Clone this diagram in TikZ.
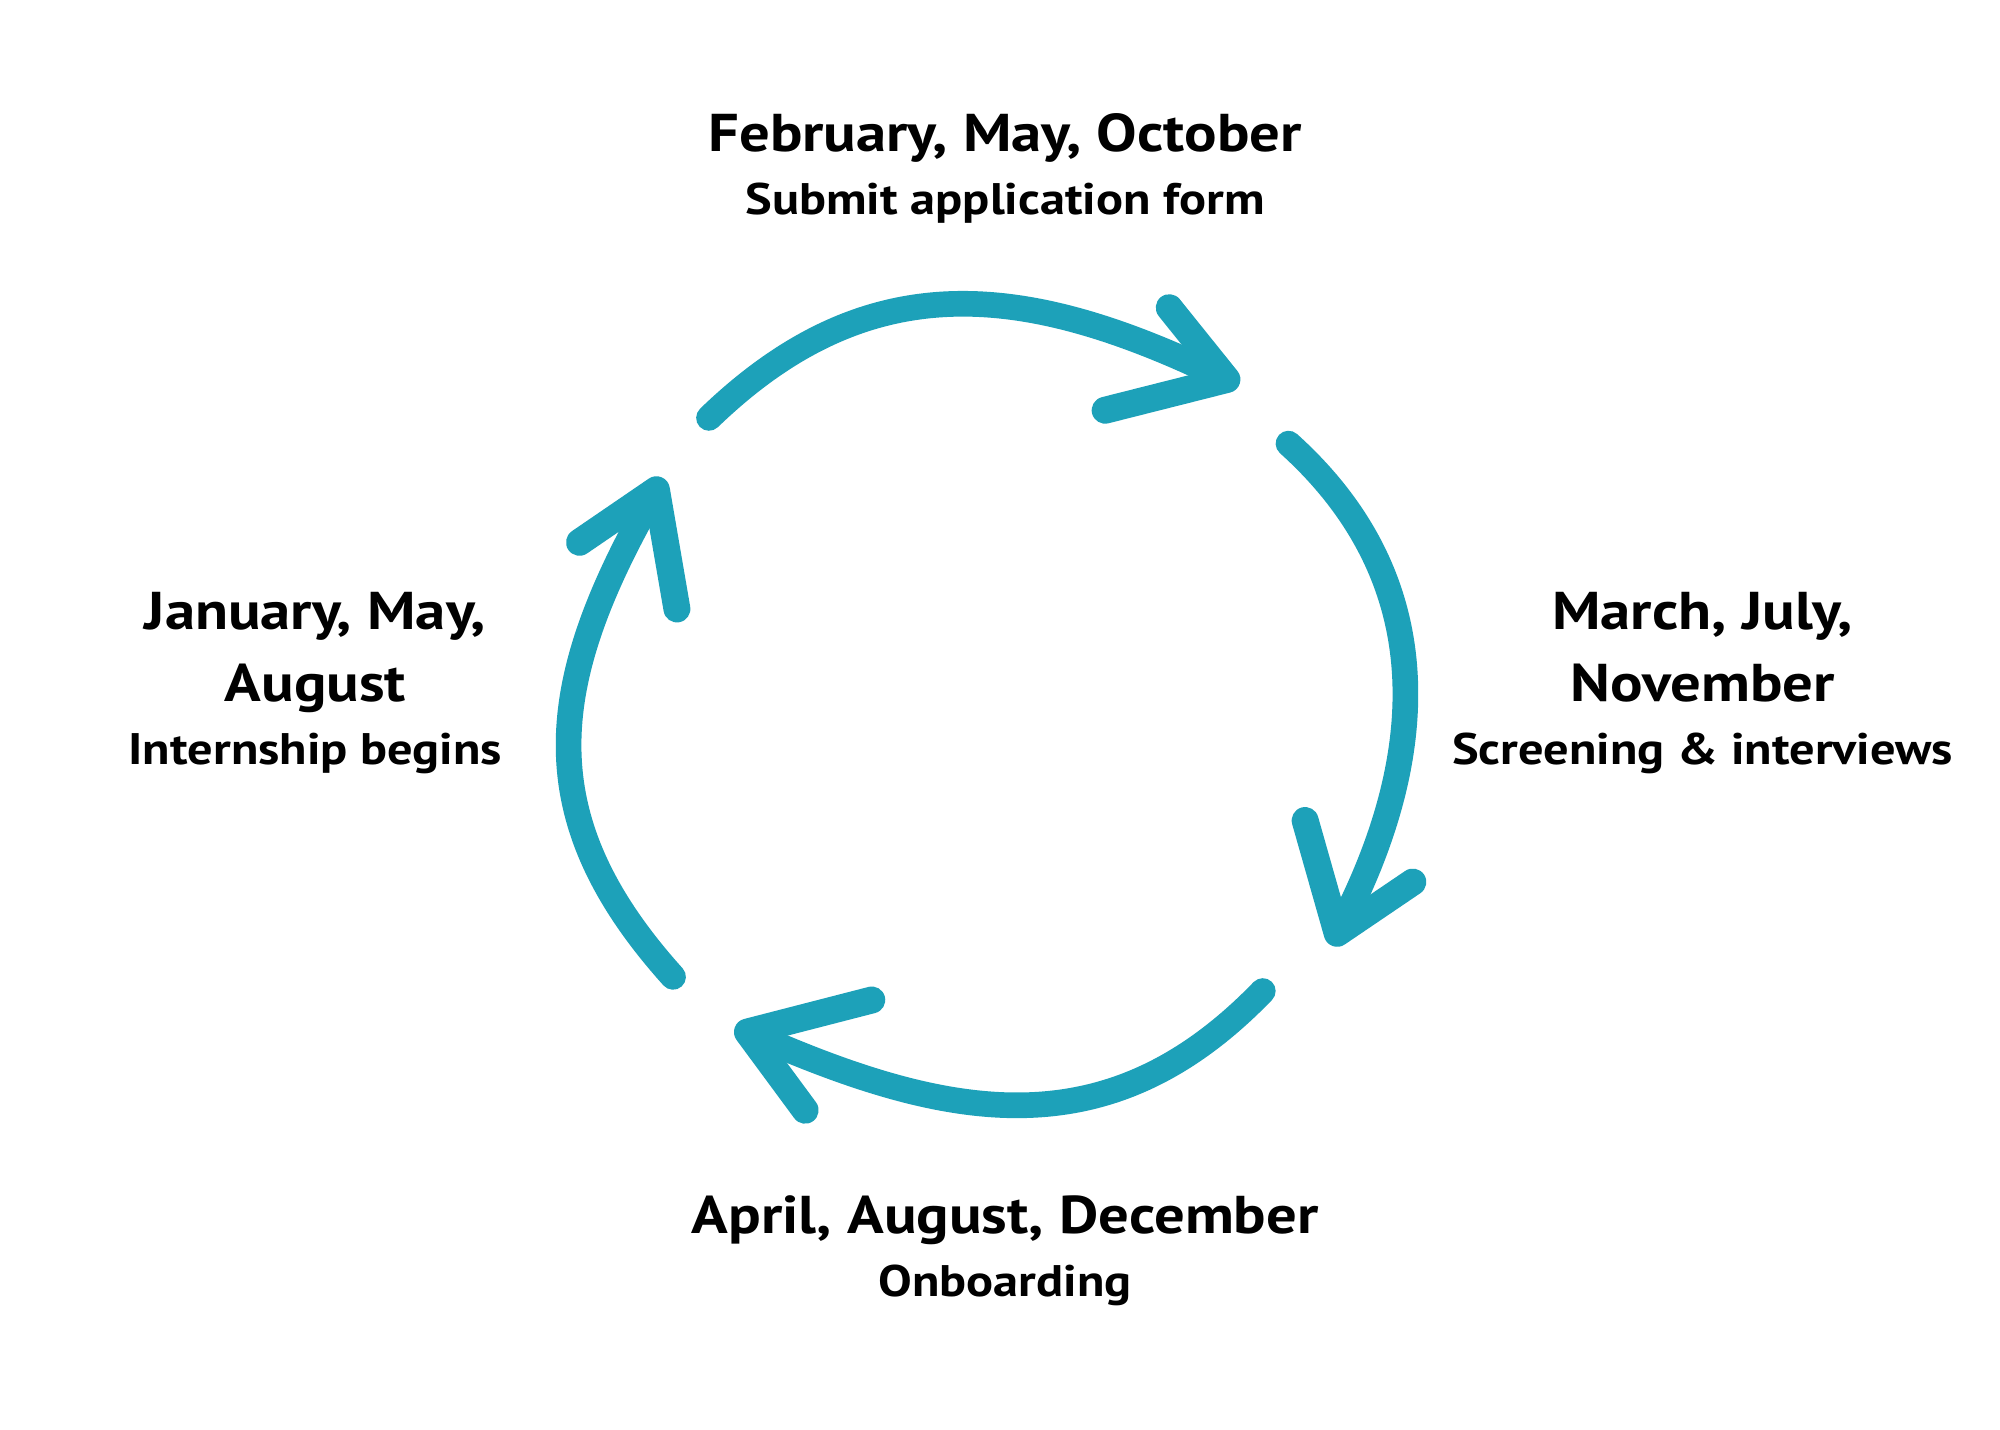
\documentclass[tikz,border=0pt]{standalone}
\usepackage{fontspec}
\setmainfont{PT Sans}[FakeStretch=1.14]
\usetikzlibrary{positioning}
\definecolor{cycleteal}{RGB}{29,161,185}

\begin{document}
\begin{tikzpicture}[x=0.01cm, y=0.01cm, node distance=5.1mm]

% Define styles for different elements
\tikzstyle{month} = [inner sep=0pt, text height=8.8pt, text depth=2.9pt, font=\fontsize{11.8}{14}\selectfont\bfseries]
\tikzstyle{task} = [inner sep=0pt, text height=7.4pt, text depth=2.5pt, font=\fontsize{9.8}{12}\selectfont\bfseries]
\tikzstyle{shaft} = [draw=cycleteal, line width=0.2cm, line cap=round, looseness=1.1]
\tikzstyle{barb} = [draw=cycleteal, line width=0.21cm, line cap=round, line join=round]

% Page
\fill[white] (0,0) rectangle (1560,1115);
\useasboundingbox (0,0) rectangle (1560,1115);

% Draw the stages
\node (feb) [month] at (784,1007) {February, May, October};
\node (submit) [task, below of=feb] {Submit application form};

\node (mar) [month] at (1328,634) {March, July,};
\node (nov) [month, below of=mar, node distance=5.6mm] {November};
\node (screen) [task, below of=nov] {Screening \& interviews};

\node (apr) [month] at (784,163) {April, August, December};
\node (onboard) [task, below of=apr] {Onboarding};

\node (jan) [month] at (246,634) {January, May,};
\node (aug) [month, below of=jan, node distance=5.6mm] {August};
\node (begins) [task, below of=aug] {Internship begins};

% Arrow ends
\coordinate (tailA) at (553,789);
\coordinate (tipA) at (957,819);
\coordinate (barbA1) at (912,875);
\coordinate (barbA2) at (862,795);

\coordinate (tailB) at (1005,769);
\coordinate (tipB) at (1043,387);
\coordinate (barbB1) at (1018,475);
\coordinate (barbB2) at (1102,427);

\coordinate (tailC) at (985,342);
\coordinate (tipC) at (583,310);
\coordinate (barbC1) at (680,335);
\coordinate (barbC2) at (628,249);

\coordinate (tailD) at (525,353);
\coordinate (tipD) at (512,733);
\coordinate (barbD1) at (452,692);
\coordinate (barbD2) at (528,640);

% Draw the arrows
\draw [shaft] (tailA) to[out=44, in=154] (tipA);
\draw [barb] (barbA1) -- (tipA) -- (barbA2);

\draw [shaft] (tailB) to[out=-42, in=62, looseness=1.05] (tipB);
\draw [barb] (barbB1) -- (tipB) -- (barbB2);

\draw [shaft] (tailC) to[out=-134, in=-24] (tipC);
\draw [barb] (barbC1) -- (tipC) -- (barbC2);

\draw [shaft] (tailD) to[out=132, in=-120, looseness=1.15] (tipD);
\draw [barb] (barbD1) -- (tipD) -- (barbD2);
\end{tikzpicture}
\end{document}
